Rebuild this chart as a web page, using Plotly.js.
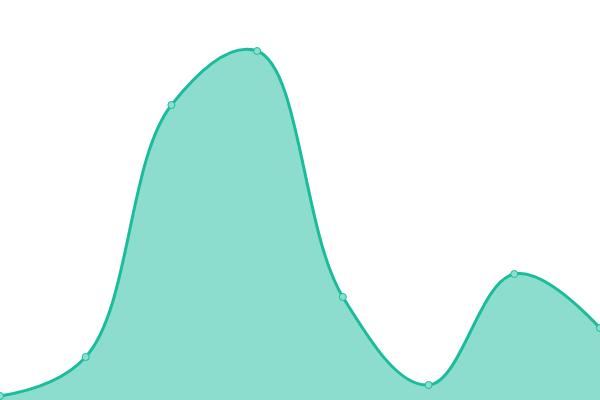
<!DOCTYPE html>
<html>
<head>
<meta charset="utf-8">
<script src="https://cdn.plot.ly/plotly-3.0.1.min.js"></script>
<style>
  html, body { margin: 0; padding: 0; background: #fff; }
  #myDiv { width: 600px; height: 400px; }
</style>
</head>
<body>
<div id="myDiv"></div>
<script>
const config = {
    displayModeBar: false,
    staticPlot: true
};

// one point per step
var xs = [0, 1, 2, 3, 4, 5, 6, 7];
var values = [4, 43, 295, 349, 103, 15, 126, 72];

var data = [
    {
        type: 'scatter',
        mode: 'lines+markers',
        x: xs,
        y: values,
        fill: 'tozeroy',
        fillcolor: 'rgba(26,188,156,0.5)',
        showlegend: false,
        line: {
            color: '#1abc9c',
            width: 3,
            shape: 'spline',
            smoothing: 1.1
        },
        marker: {
            size: 7,
            color: '#8ae0cf',
            line: { color: '#1abc9c', width: 1 }
        }
    }
];

var layout = {
    width: 600,
    height: 400,
    margin: { l: 0, r: 0, b: 0, t: 0, pad: 0 },
    xaxis: {
        range: [0, 7],
        visible: false,
        fixedrange: true
    },
    yaxis: {
        range: [0, 400],
        visible: false,
        fixedrange: true
    },
    paper_bgcolor: '#ffffff',
    plot_bgcolor: '#ffffff'
};
Plotly.newPlot("myDiv", data, layout, config);
</script>
</body>
</html>
